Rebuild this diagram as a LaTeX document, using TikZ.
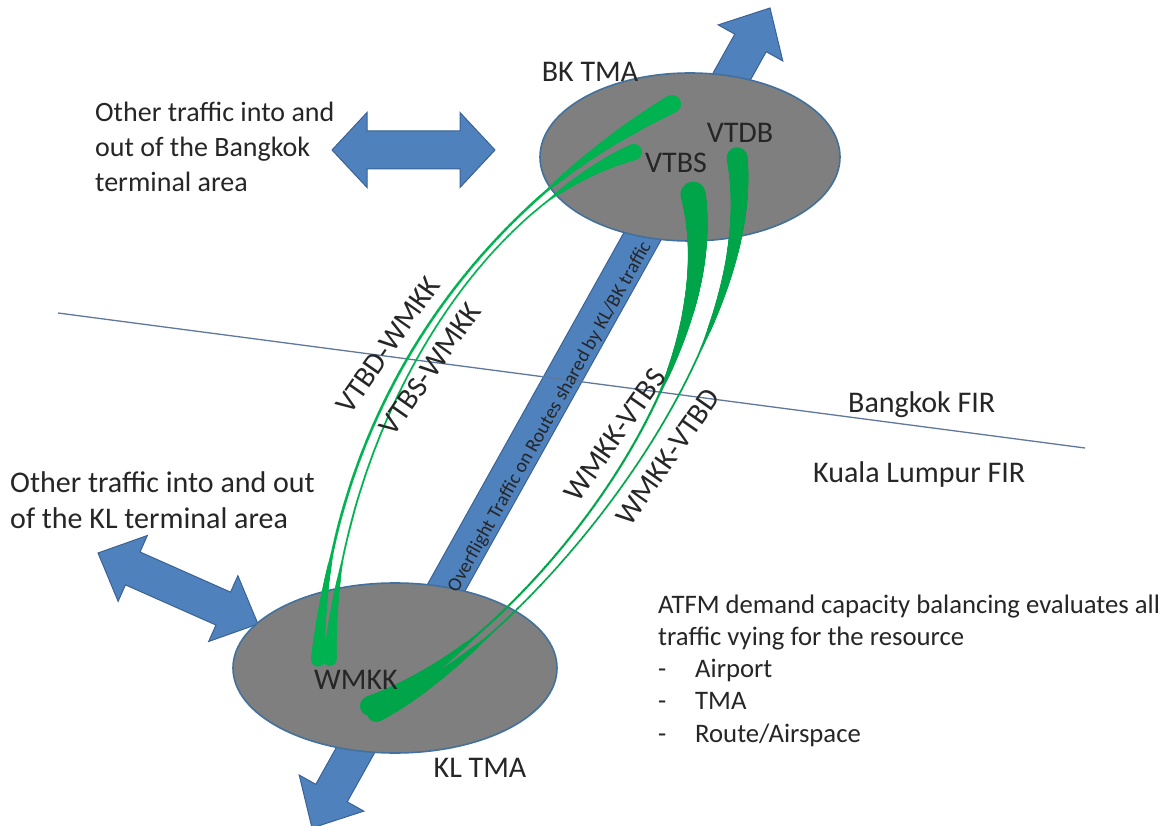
\documentclass[tikz,border=0pt]{standalone}
\usepackage{fontspec}
\setmainfont{Carlito}
\usetikzlibrary{calc,decorations.markings,shapes.geometric}

\definecolor{tmafill}{RGB}{127,127,127}
\definecolor{tmaedge}{RGB}{65,113,156}
\definecolor{flowblue}{RGB}{79,129,189}
\definecolor{flowedge}{RGB}{58,98,148}
\definecolor{route}{RGB}{0,178,80}
\definecolor{routedk}{RGB}{0,165,74}
\definecolor{firline}{RGB}{95,120,155}
\definecolor{ink}{RGB}{38,38,38}

% double-headed block arrow: tip 1, tip 2, head length, shaft half width, head half width
\newcommand\dblblock[5]{%
  \coordinate (#1-hd) at ($(#1)!#3!(#2)$);
  \coordinate (#2-hd) at ($(#2)!#3!(#1)$);
  \filldraw[blockarrow]
    (#1) -- ($(#1-hd)!#5!90:(#2)$) -- ($(#1-hd)!#4!90:(#2)$)
    -- ($(#2-hd)!#4!-90:(#1)$) -- ($(#2-hd)!#5!-90:(#1)$) -- (#2)
    -- ($(#2-hd)!#5!90:(#1)$) -- ($(#2-hd)!#4!90:(#1)$)
    -- ($(#1-hd)!#4!-90:(#2)$) -- ($(#1-hd)!#5!-90:(#2)$) -- cycle;
}

\begin{document}
\begin{tikzpicture}[x=1pt,y=-1pt,
  blockarrow/.style={fill=flowblue, draw=flowedge, line width=1pt, line join=miter},
  tma/.style={ellipse, fill=tmafill, draw=tmaedge, line width=1.6pt, inner sep=0pt},
  lbl/.style={text=ink, inner sep=0pt, font={\fontsize{30}{36}\selectfont}},
  note/.style={text=ink, inner sep=0pt, font={\fontsize{28}{35}\selectfont}},
  notes/.style={text=ink, inner sep=0pt, font={\fontsize{26.7}{32.3}\selectfont}},
  bandtxt/.style={text=ink, inner sep=0pt, font={\fontsize{19.5}{22}\selectfont}},
  % tapered route stroke: start radius, start fraction, middle radius,
  % end radius, end fraction, colour
  taper/.style n args={6}{
    decoration={markings,
      mark=between positions 0 and 1 step 1pt with {
        \pgfmathsetmacro\tpos{\pgfkeysvalueof{/pgf/decoration/mark info/distance from start}/\pgfdecoratedpathlength}
        \pgfmathsetmacro\trad{#3+(#1-#3)*max(0.0001,1-\tpos/#2)^1.1+(#4-#3)*max(0.0001,(\tpos-1+#5)/#5)^1.1}
        \fill[#6] (0,0) circle (\trad pt);
      }},
    postaction=decorate}
]
\useasboundingbox (0,0) rectangle (1168,826);
\clip (0,0) rectangle (1168,826);
\fill[white] (0,0) rectangle (1168,826);

% block arrows for traffic flows
\coordinate (ovN) at (770,8);
\coordinate (ovS) at (312,828);
\dblblock{ovN}{ovS}{40pt}{18pt}{37pt}
\coordinate (bkW) at (332,150);
\coordinate (bkE) at (495,150);
\dblblock{bkW}{bkE}{35pt}{19pt}{37.5pt}
\coordinate (klW) at (98,553);
\coordinate (klE) at (258,624);
\dblblock{klW}{klE}{38pt}{18pt}{36pt}

% FIR boundary
\coordinate (firW) at (58,313);
\coordinate (firE) at (1085,448);
\draw[firline, line width=1.3pt] (firW) -- (firE);

% terminal areas
\node[tma, minimum width=300pt, minimum height=168pt] (bk) at (690,157) {};
\node[tma, minimum width=324pt, minimum height=170pt] (kl) at (395,668) {};

% routes
\coordinate (vtdbOut) at (672,104);
\coordinate (vtbsOut) at (634,152);
\coordinate (wmkkInA) at (318,660);
\coordinate (wmkkInB) at (330,660);
\coordinate (wmkkOutA) at (370,706);
\coordinate (wmkkOutB) at (376,713);
\coordinate (vtbsIn) at (693,194);
\coordinate (vtdbIn) at (737,157);

\path[taper={9}{0.22}{1.5}{7.5}{0.17}{route}]
  (vtdbOut) .. controls (455,222) and (330,432) .. (wmkkInA);
\path[taper={8}{0.16}{1.1}{7}{0.17}{route}]
  (vtbsOut) .. controls (470,212) and (340,440) .. (wmkkInB);
\path[taper={10}{0.2}{1.3}{13}{0.33}{routedk}]
  (wmkkOutA) .. controls (520,640) and (730,380) .. (vtbsIn);
\path[taper={9}{0.2}{1.1}{11}{0.3}{routedk}]
  (wmkkOutB) .. controls (520,650) and (765,360) .. (vtdbIn);

% labels
\node[lbl] (bktma) at (590,72) {BK TMA};
\node[lbl] (vtdb) at (740,133) {VTDB};
\node[lbl] (vtbs) at (676,163) {VTBS};
\node[lbl] (wmkk) at (356,680) {WMKK};
\node[lbl] (kltma) at (480,768) {KL TMA};

\node[lbl, rotate=55] (r1) at (388,345) {VTBD-WMKK};
\node[lbl, rotate=55] (r2) at (430,369) {VTBS-WMKK};
\node[lbl, rotate=55] (r3) at (615,435) {WMKK-VTBS};
\node[lbl, rotate=55] (r4) at (668,457) {WMKK-VTBD};

\node[bandtxt, rotate=60.8] (ovtxt) at (550,417) {Overflight Traffic on Routes shared by KL/BK traffic};

\node[note, anchor=base west] (bknote) at (95,122)
  {\begin{tabular}[t]{@{}l@{}}Other traffic into and\\out of the Bangkok\\terminal area\end{tabular}};
\node[lbl, anchor=base west] (klnote) at (10,492)
  {\begin{tabular}[t]{@{}l@{}}Other traffic into and out\\of the KL terminal area\end{tabular}};

\node[lbl, anchor=base west] (bkfir) at (848,413) {Bangkok FIR};
\node[lbl, anchor=base west] (klfir) at (813,482) {Kuala Lumpur FIR};

\node[notes, anchor=base west] (atfm) at (658,613)
  {\begin{tabular}[t]{@{}l@{}}ATFM demand capacity balancing evaluates all\\
   traffic vying for the resource\\
   \makebox[37pt][l]{-}Airport\\
   \makebox[37pt][l]{-}TMA\\
   \makebox[37pt][l]{-}Route/Airspace\end{tabular}};
\end{tikzpicture}
\end{document}
